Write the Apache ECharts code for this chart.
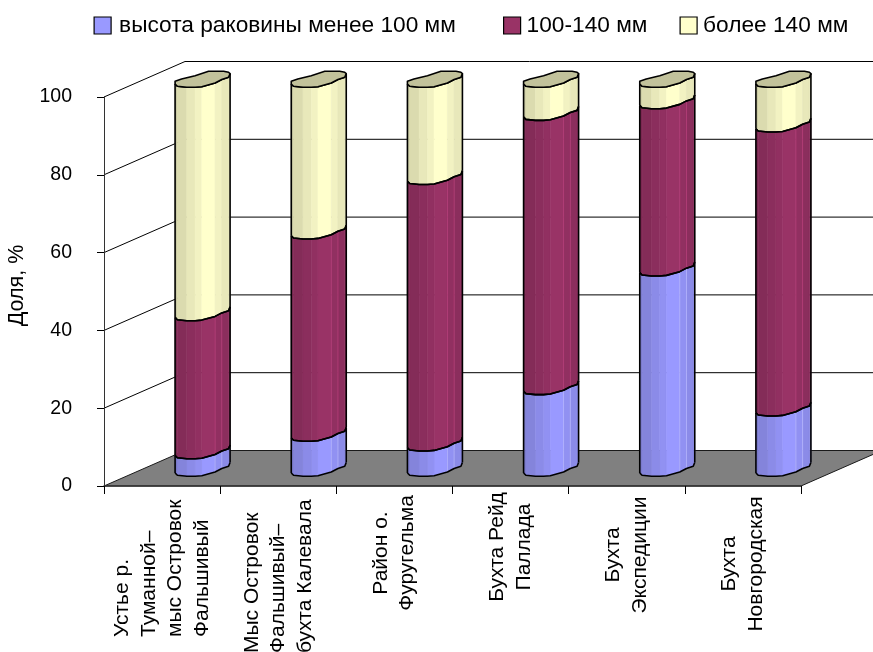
<!DOCTYPE html>
<html>
<head>
<meta charset="utf-8">
<style>html,body{margin:0;padding:0;background:#fff;overflow:hidden}#chart{width:873px;height:652px}</style>
<script src="https://cdn.jsdelivr.net/npm/echarts@6/dist/echarts.min.js"></script>
</head>
<body>
<div id="chart"></div>
<script>
// Share of shell-height classes at six sites, in percent.
const categories = [
  'Устье р.\nТуманной–\nмыс Островок\nФальшивый',
  'Мыс Островок\nФальшивый–\nбухта Калевала',
  'Район о.\nФуругельма',
  'Бухта Рейд\nПаллада',
  'Бухта\nЭкспедиции',
  'Бухта\nНовгородская'
];
const seriesNames = ['высота раковины менее 100 мм', '100-140 мм', 'более 140 мм'];
const small  = [4.5, 9, 6.5, 21, 51.5, 15.5];
const medium = [35.5, 52, 68.5, 70.5, 43, 73];
const large  = [60, 39, 25, 8.5, 5.5, 11.5];
const yTicks = [0, 20, 40, 60, 80, 100];

// Oblique projection of the chart box: depth offset of back wall and of column axes.
const DEPTH_X = 81, DEPTH_Y = 35.5, COL_X = 40.5, COL_Y = 18;
const FONT = '"Liberation Sans", Arial, sans-serif';

// Faceted cross-section of a column, as offsets from its axis, with a shade per facet.
const FRONT_ARC = [[-27.5,5],[-25.2,7.3],[-15.8,8.3],[-7.5,8.3],[-0.8,7.7],[12.5,4],[19.2,0.5],[26,-1.7],[27.5,-5.5]];
const BACK_ARC = [[26,-6.7],[21,-7.7],[6,-7.7],[-7.5,-3.3],[-21,0],[-27.5,2.3]];
const FACET_SHADE = [0.79,0.86,0.91,0.95,1,0.95,0.91,0.91];
const SEAM_FACETS = [5, 6];

function shade(rgb, k) {
  return 'rgb(' + rgb.map(c => Math.min(255, Math.round(c * k))).join(',') + ')';
}

function columnSeries(name, values, bases, rgb, capped, seamed) {
  return {
    type: 'custom', name, z: 3, clip: false,
    itemStyle: { color: shade(rgb, 1) },
    data: values.map((v, i) => [i, bases[i], bases[i] + v]),
    renderItem(params, api) {
      const i = api.value(0);
      const low = api.coord([i, api.value(1)]);
      const high = api.coord([i, api.value(2)]);
      const cx = low[0] + COL_X, yb = low[1] - COL_Y, yt = high[1] - COL_Y;
      const children = [];
      FRONT_ARC.slice(0, -1).forEach((p, k) => {
        const q = FRONT_ARC[k + 1];
        const fill = shade(rgb, FACET_SHADE[k]);
        children.push({
          type: 'polygon', z2: 1,
          shape: { points: [[cx+p[0],yb+p[1]],[cx+q[0],yb+q[1]],[cx+q[0],yt+q[1]],[cx+p[0],yt+p[1]]] },
          style: { fill, stroke: fill, lineWidth: 0.6 }
        });
      });
      if (seamed) {
        SEAM_FACETS.forEach(k => {
          const p = FRONT_ARC[k];
          children.push({ type: 'polyline', z2: 1,
            shape: { points: [[cx+p[0],yb+p[1]],[cx+p[0],yt+p[1]]] },
            style: { stroke: shade(rgb, 1.2), lineWidth: 0.8, fill: null } });
        });
      }
      const arcAt = y => FRONT_ARC.map(p => [cx + p[0], y + p[1]]);
      const line = { stroke: '#000', lineWidth: 1.6, fill: null, lineJoin: 'round' };
      children.push({ type: 'polyline', z2: 2, shape: { points: arcAt(yb) }, style: line });
      children.push({ type: 'polyline', z2: 2, shape: { points: arcAt(yt) }, style: line });
      const l = FRONT_ARC[0], r = FRONT_ARC[FRONT_ARC.length - 1];
      children.push({ type: 'polyline', z2: 2, shape: { points: [[cx+l[0],yb+l[1]],[cx+l[0],yt+l[1]]] }, style: line });
      children.push({ type: 'polyline', z2: 2, shape: { points: [[cx+r[0],yb+r[1]],[cx+r[0],yt+r[1]]] }, style: line });
      if (capped) {
        const cap = arcAt(yt).concat(BACK_ARC.map(p => [cx + p[0], yt + p[1]]));
        children.push({ type: 'polygon', z2: 3, shape: { points: cap },
          style: { fill: shade(rgb, 0.76), stroke: '#000', lineWidth: 1.6, lineJoin: 'round' } });
      }
      return { type: 'group', children };
    }
  };
}

// Floor, back-wall grid lines and side-wall diagonals.
const wallSeries = {
  type: 'custom', z: 1, clip: false, silent: true, legendHoverLink: false,
  data: yTicks.map(t => [t]),
  renderItem(params, api) {
    const t = api.value(0);
    const band = api.size([1, 0])[0];
    const last = categories.length - 1;
    const x0 = api.coord([0, t])[0] - band / 2;
    const x1 = api.coord([last, t])[0] + band / 2;
    const y = api.coord([0, t])[1];
    const ink = { stroke: '#000', lineWidth: 1, fill: null };
    if (t === 0) {
      return { type: 'polygon',
        shape: { points: [[x0,y],[x0+DEPTH_X,y-DEPTH_Y],[x1+DEPTH_X,y-DEPTH_Y],[x1,y]] },
        style: { fill: '#808080', stroke: '#1a1a1a', lineWidth: 1 } };
    }
    return { type: 'polyline',
      shape: { points: [[x0,y],[x0+DEPTH_X,y-DEPTH_Y],[x1+DEPTH_X,y-DEPTH_Y]] }, style: ink };
  }
};

const bases = [categories.map(() => 0), small, small.map((v, i) => v + medium[i])];

// Individual placement of the rotated category captions along the axis.
const captionLayout = [
  { align: 'left', padding: [0, 0, 4, -141] },
  { align: 'left', padding: [0, 0, 4, -157] },
  { align: 'center', padding: [0, 114, 4, 0] },
  { align: 'center', padding: [0, 102, 4, 0] },
  { align: 'center', padding: [0, 118, 4, 0] },
  { align: 'center', padding: [0, 136, 4, 0] }
];

const legendSpots = [88.5, 498, 674.5];
const legendTextGaps = [3, 1, 1];

const option = {
  animation: false,
  backgroundColor: '#fff',
  textStyle: { fontFamily: FONT },
  legend: seriesNames.map((n, i) => ({
    data: [n], left: legendSpots[i], top: 9, itemWidth: 17, itemHeight: 17, itemGap: 0,
    icon: 'rect', selectedMode: false,
    itemStyle: { borderColor: '#000', borderWidth: 1.2 },
    textStyle: { fontFamily: FONT, fontSize: 22.7, color: '#000', padding: [0, 0, 0, legendTextGaps[i]] }
  })),
  grid: { left: 104, top: 97, width: 697, height: 389, outerBoundsMode: 'none' },
  xAxis: {
    type: 'category',
    data: categories.map((c, i) => ({
      value: c,
      textStyle: captionLayout[i]
    })),
    axisLine: { lineStyle: { color: '#333', width: 1.5 } },
    axisTick: { show: true, length: 8, alignWithLabel: false, lineStyle: { color: '#000', width: 1 } },
    axisLabel: { interval: 0, rotate: 90, margin: 10, fontFamily: FONT, fontSize: 21, lineHeight: 26.5, color: '#000', hideOverlap: false },
    z: 5
  },
  yAxis: {
    type: 'value', min: 0, max: 100, interval: 20,
    name: 'Доля, %', nameLocation: 'middle', nameGap: 75,
    nameTextStyle: { fontFamily: FONT, fontSize: 21.5, color: '#000', padding: [0, 0, 0, 12] },
    axisLine: { show: true, lineStyle: { color: '#333', width: 1 } },
    axisTick: { show: true, length: 7, lineStyle: { color: '#000', width: 1 } },
    axisLabel: { margin: 32, fontFamily: FONT, fontSize: 19.5, color: '#000', padding: [2, 0, 0, 0] },
    splitLine: { show: false },
    z: 5
  },
  series: [
    wallSeries,
    columnSeries(seriesNames[0], small, bases[0], [153,153,255], false, true),
    columnSeries(seriesNames[1], medium, bases[1], [153,51,102], false, true),
    columnSeries(seriesNames[2], large, bases[2], [255,255,204], true, false)
  ]
};

echarts.init(document.getElementById('chart'), null, { renderer: 'canvas' }).setOption(option);
</script>
</body>
</html>
